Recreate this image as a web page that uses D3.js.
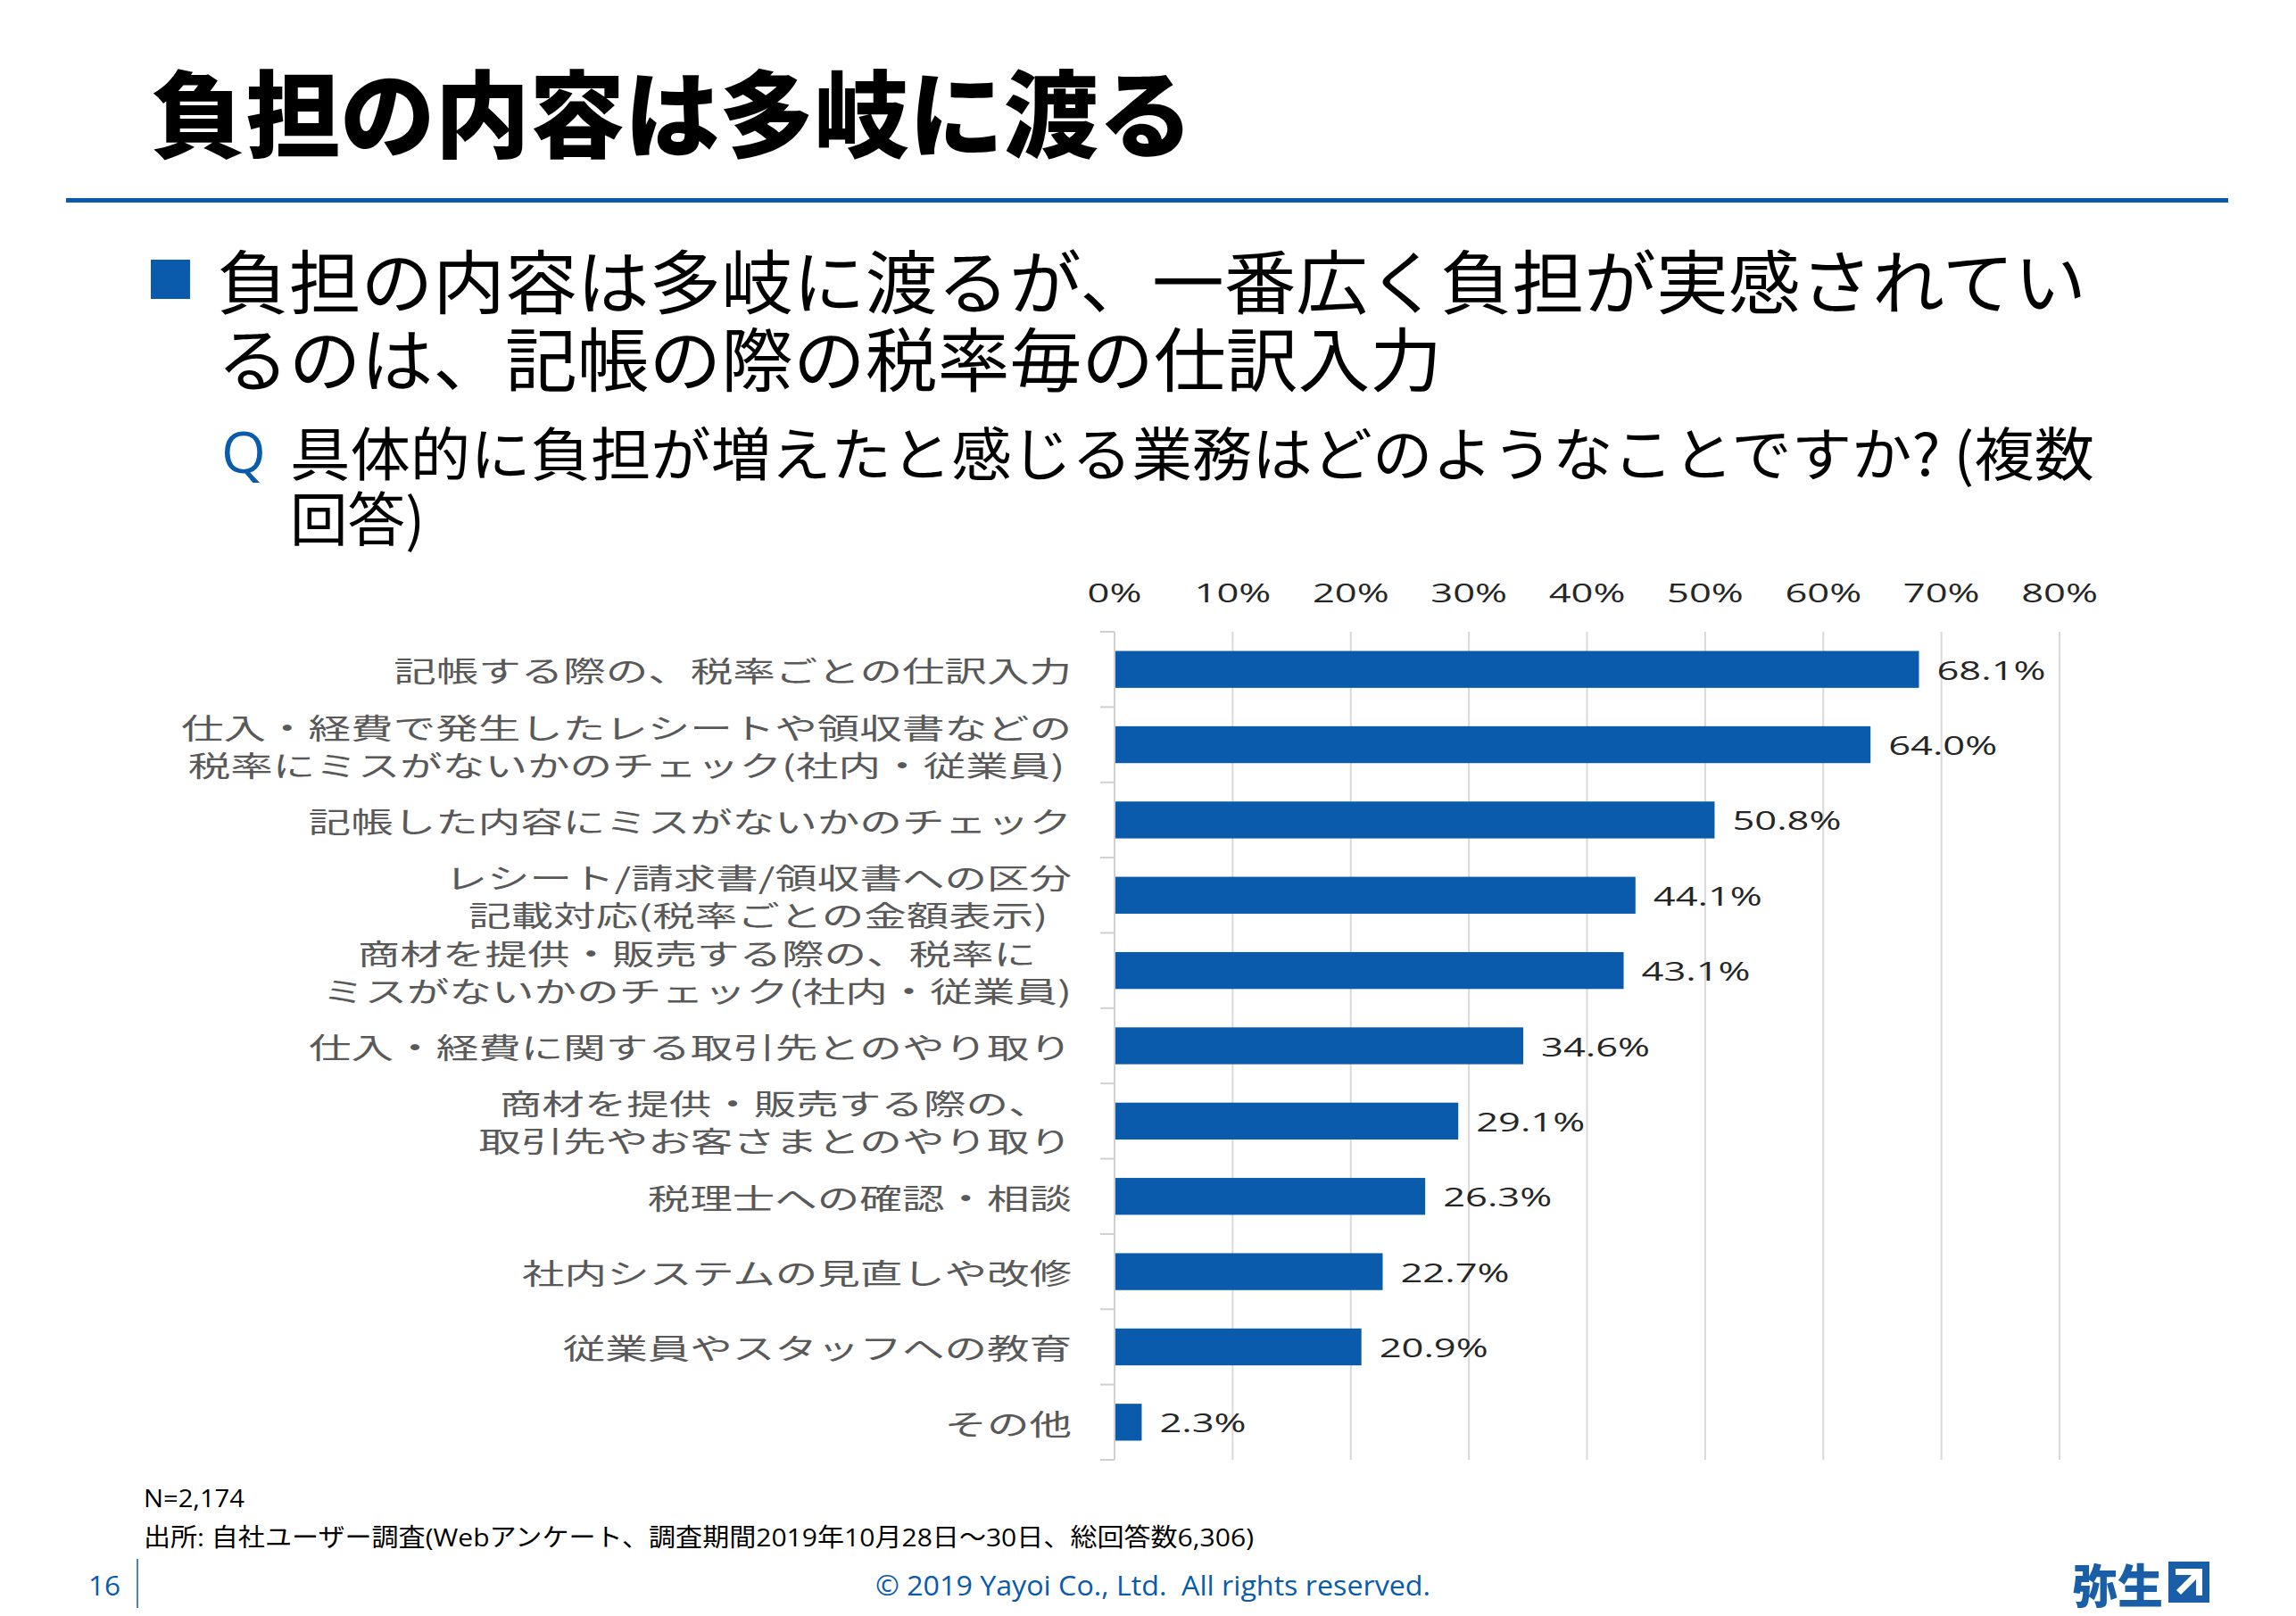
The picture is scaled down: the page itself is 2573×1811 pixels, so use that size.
<!DOCTYPE html>
<html><head><meta charset="utf-8">
<script src="https://cdn.jsdelivr.net/npm/d3@7"></script>
<style>html,body{margin:0;padding:0;background:#fff;} svg{display:block}</style>
</head><body>
<script>
// ---- data ----
const categories = [
  "記帳する際の、税率ごとの仕訳入力",
  "仕入・経費で発生したレシートや領収書などの\n税率にミスがないかのチェック(社内・従業員)",
  "記帳した内容にミスがないかのチェック",
  "レシート/請求書/領収書への区分\n記載対応(税率ごとの金額表示)",
  "商材を提供・販売する際の、税率に\nミスがないかのチェック(社内・従業員)",
  "仕入・経費に関する取引先とのやり取り",
  "商材を提供・販売する際の、\n取引先やお客さまとのやり取り",
  "税理士への確認・相談",
  "社内システムの見直しや改修",
  "従業員やスタッフへの教育",
  "その他"
];
const values = [68.1, 64.0, 50.8, 44.1, 43.1, 34.6, 29.1, 26.3, 22.7, 20.9, 2.3];
const tickValues = [0, 10, 20, 30, 40, 50, 60, 70, 80];
const tickLabels = ["0%", "10%", "20%", "30%", "40%", "50%", "60%", "70%", "80%"];

const titleText = "負担の内容は多岐に渡る";
const bulletLines = ["負担の内容は多岐に渡るが、一番広く負担が実感されてい", "るのは、記帳の際の税率毎の仕訳入力"];
const questionLines = ["具体的に負担が増えたと感じる業務はどのようなことですか? (複数", "回答)"];
const noteN = "N=2,174";
const noteSource = "出所: 自社ユーザー調査(Webアンケート、調査期間2019年10月28日～30日、総回答数6,306)";
const pageNo = "16";
const copyright = "© 2019 Yayoi Co., Ltd.\u00a0 All rights reserved.";
const logoText = "弥生";

// ---- styles ----
const W = 2573, H = 1811;
const BLUE = "#0a5bab";
const JP = "'Noto Sans CJK JP', 'Noto Sans', sans-serif";
const LAT = "'Open Sans', 'Noto Sans CJK JP', sans-serif";
const SX = 1.45;      // horizontal stretch of chart numbers
const SX_CAT = 1.485; // horizontal stretch of category labels

const svg = d3.select("body").append("svg").attr("width", W).attr("height", H);
svg.append("rect").attr("width", W).attr("height", H).attr("fill", "#fff");

function fitTo(sel, len) {
  sel.attr("textLength", len).attr("lengthAdjust", "spacingAndGlyphs");
}
function stretch(sel, sx) {
  sel.each(function () {
    const L = this.getComputedTextLength();
    if (L > 0) {
      this.setAttribute("textLength", L * sx);
      this.setAttribute("lengthAdjust", "spacingAndGlyphs");
    }
  });
}

// ---- header ----
svg.append("text").attr("x", 169).attr("y", 122).attr("dominant-baseline", "central")
  .attr("font-family", JP).attr("font-weight", 900).attr("font-size", 106).attr("fill", "#000")
  .text(titleText).call(fitTo, 1168);

svg.append("rect").attr("x", 74).attr("y", 222).attr("width", 2423).attr("height", 5).attr("fill", BLUE);

svg.append("rect").attr("x", 169).attr("y", 291).attr("width", 44).attr("height", 44).attr("fill", BLUE);
const bulletW = [2095, 1373];
bulletLines.forEach((t, i) => {
  svg.append("text").attr("x", 243).attr("y", 312 + i * 87).attr("dominant-baseline", "central")
    .attr("font-family", JP).attr("font-size", 78).attr("fill", "#000")
    .text(t).call(fitTo, bulletW[i]);
});

svg.append("text").attr("x", 248).attr("y", 505).attr("dominant-baseline", "central")
  .attr("font-family", LAT).attr("font-size", 64).attr("fill", BLUE).text("Q");
const qW = [2022, 151];
questionLines.forEach((t, i) => {
  svg.append("text").attr("x", 325).attr("y", 505 + i * 73).attr("dominant-baseline", "central")
    .attr("font-family", JP).attr("font-size", 65).attr("fill", "#000")
    .text(t).call(fitTo, qW[i]);
});

// ---- chart ----
const x = d3.scaleLinear().domain([0, 80]).range([1249, 2308]);
const y = d3.scaleBand().domain(categories).range([708, 1636]).paddingInner(0.51).paddingOuter(0.255);
const step = y.step();
const g = svg.append("g");

// gridlines
g.selectAll("line.grid").data(tickValues).join("line").attr("class", "grid")
  .attr("x1", d => x(d)).attr("x2", d => x(d)).attr("y1", 708).attr("y2", 1636)
  .attr("stroke", "#d9d9d9").attr("stroke-width", 2);

// category boundary ticks
const bounds = d3.range(categories.length + 1);
g.selectAll("line.ctick").data(bounds).join("line").attr("class", "ctick")
  .attr("x1", x(0) - 16).attr("x2", x(0)).attr("y1", d => 708 + d * step).attr("y2", d => 708 + d * step)
  .attr("stroke", "#d0d0d0").attr("stroke-width", 2);
g.append("line").attr("x1", x(0)).attr("x2", x(0)).attr("y1", 708).attr("y2", 1636)
  .attr("stroke", "#d0d0d0").attr("stroke-width", 2);

// tick labels (top)
g.selectAll("text.tick").data(tickValues).join("text").attr("class", "tick")
  .attr("x", d => x(d)).attr("y", 663).attr("text-anchor", "middle").attr("dominant-baseline", "central")
  .attr("font-family", LAT).attr("font-size", 30).attr("fill", "#262626")
  .text((d, i) => tickLabels[i]).call(stretch, SX);

// bars
g.selectAll("rect.bar").data(values).join("rect").attr("class", "bar")
  .attr("x", x(0) + 1).attr("y", (d, i) => y(categories[i]))
  .attr("width", d => x(d) - x(0) - 1).attr("height", y.bandwidth())
  .attr("fill", BLUE);

// value labels
g.selectAll("text.val").data(values).join("text").attr("class", "val")
  .attr("x", d => x(d) + 20).attr("y", (d, i) => y(categories[i]) + y.bandwidth() / 2)
  .attr("dominant-baseline", "central")
  .attr("font-family", LAT).attr("font-size", 30).attr("fill", "#262626")
  .text(d => d.toFixed(1) + "%").call(stretch, SX);

// category labels: lines centered as a block, block right-aligned
const labelRight = 1201, lineGap = 42;
categories.forEach((c, i) => {
  const lines = c.split("\n");
  const cy = y(c) + y.bandwidth() / 2;
  const ts = lines.map((l, j) => g.append("text")
    .attr("y", cy + (j - (lines.length - 1) / 2) * lineGap)
    .attr("text-anchor", "middle").attr("dominant-baseline", "central")
    .attr("font-family", JP).attr("font-size", 32).attr("fill", "#595959")
    .text(l));
  const lens = ts.map(t => t.node().getComputedTextLength());
  const bw = d3.max(lens) * SX_CAT;
  ts.forEach((t, j) => {
    t.attr("x", labelRight - bw / 2).call(stretch, SX_CAT);
  });
});

// ---- footer ----
svg.append("text").attr("x", 161).attr("y", 1678).attr("dominant-baseline", "central")
  .attr("font-family", LAT).attr("font-size", 28).attr("fill", "#000").text(noteN).call(fitTo, 113);
svg.append("text").attr("x", 161).attr("y", 1722).attr("dominant-baseline", "central")
  .attr("font-family", LAT).attr("font-size", 28).attr("fill", "#000").text(noteSource).call(fitTo, 1244);

svg.append("text").attr("x", 99).attr("y", 1776).attr("dominant-baseline", "central")
  .attr("font-family", LAT).attr("font-size", 31).attr("fill", BLUE).text(pageNo).call(fitTo, 36);
svg.append("line").attr("x1", 154).attr("x2", 154).attr("y1", 1747).attr("y2", 1802)
  .attr("stroke", BLUE).attr("stroke-width", 1.5);

svg.append("text").attr("x", 981).attr("y", 1776).attr("dominant-baseline", "central")
  .attr("font-family", LAT).attr("font-size", 31).attr("fill", BLUE).text(copyright).call(fitTo, 622);

// logo
svg.append("text").attr("x", 2322).attr("y", 1774).attr("dominant-baseline", "central")
  .attr("font-family", JP).attr("font-weight", 900).attr("font-size", 52).attr("fill", "#1a5ea8")
  .text(logoText).call(fitTo, 102);
const lg = svg.append("g").attr("transform", "translate(2430,1750)");
lg.append("rect").attr("width", 46).attr("height", 46).attr("fill", "#1a5ea8");
lg.append("path").attr("d", "M8,8 H38 V38 H31 V20 L14,37 L9,32 L26,15 H8 Z").attr("fill", "#fff");
</script>
</body></html>
